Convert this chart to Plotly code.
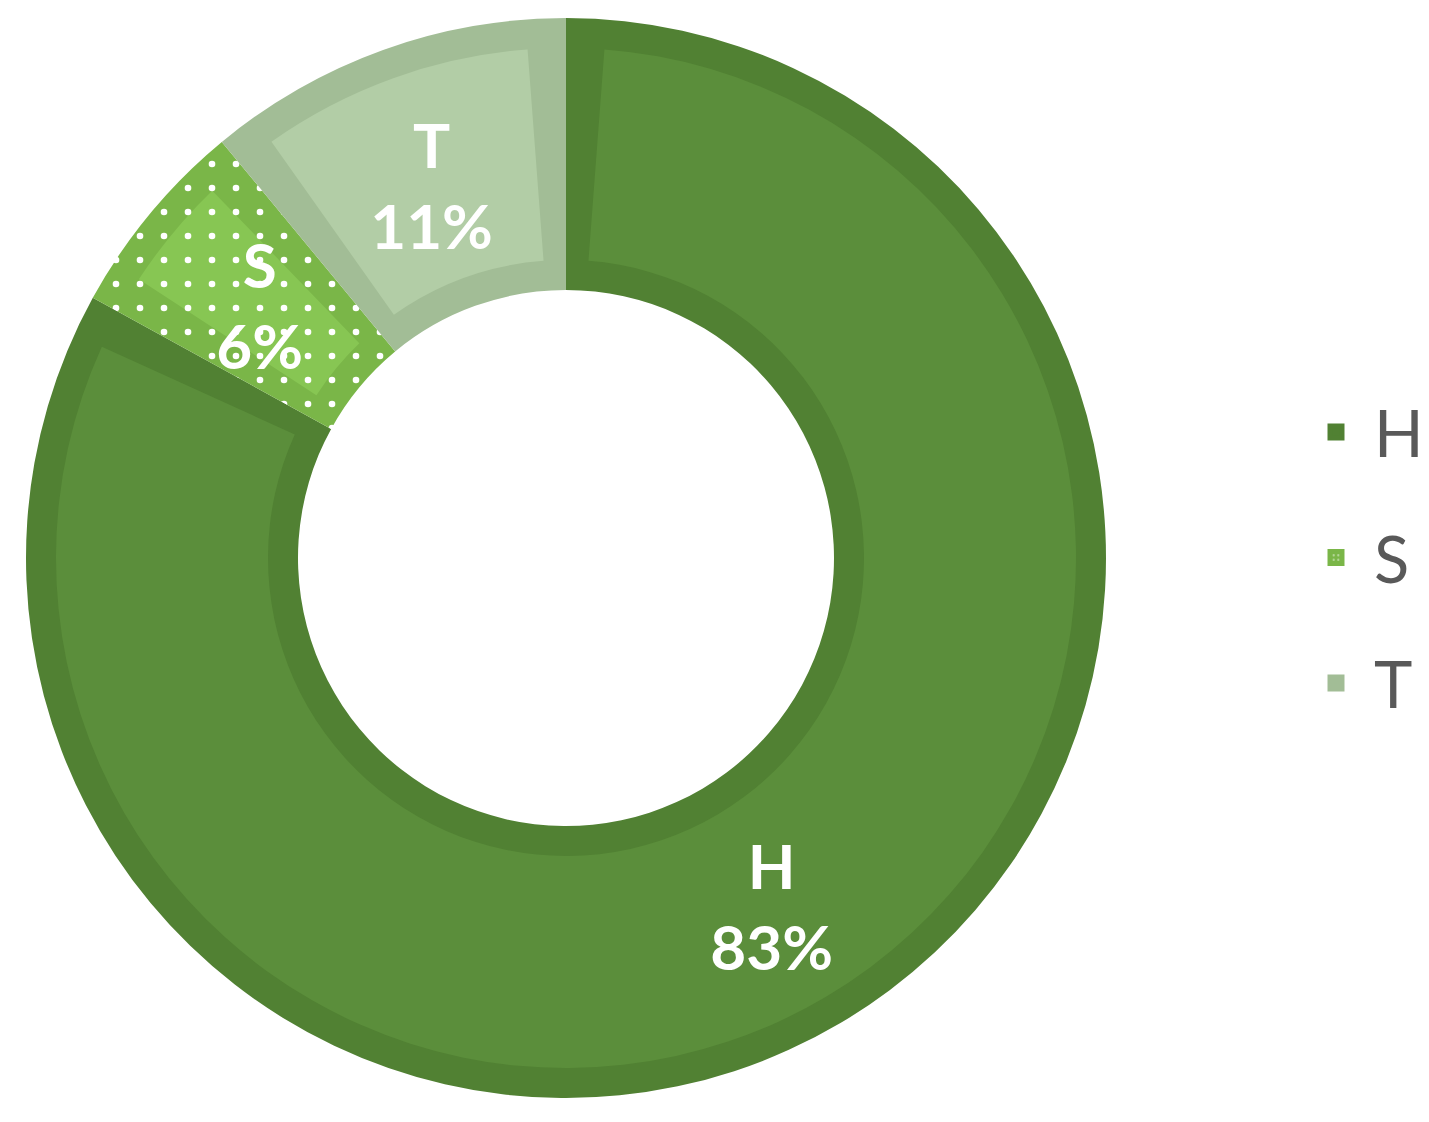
import plotly.graph_objects as go

labels = ["H", "S", "T"]
values = [83, 6, 11]
fill_colors = ["#5b8e3b", "#87c653", "#b2cda6"]
edge_colors = ["#518133", "#7ab648", "#a2bd96"]
patterns = ["", ".", ""]

total = sum(values)
gap = 2.4  # value units taken out at each slice boundary for the inner layer

slice_text = [f"<b>{lab}<br>{val / total * 100:.0f}%</b>" for lab, val in zip(labels, values)]

# inner layer: slice interiors separated by transparent gaps
# (the big slice carries its label here, the small ones on the text layer)
in_labels, in_values, in_colors, in_pat, in_text = [], [], [], [], []
for lab, val, col, pat, txt in zip(labels, values, fill_colors, patterns, slice_text):
    in_labels += [lab, "gap_" + lab]
    in_values += [val - gap, gap]
    in_colors += [col, "rgba(0,0,0,0)"]
    in_pat += [pat, ""]
    in_text += [txt if val / total > 0.5 else "", ""]

top_text = [txt if val / total <= 0.5 else "" for txt, val in zip(slice_text, values)]

cx, cy = 558, 572  # ring centre in px (paper, from bottom-left)


def dom(r):
    return dict(x=[(cx - r) / 1429, (cx + r) / 1429], y=[(cy - r) / 1122, (cy + r) / 1122])


fig = go.Figure()

# outer layer: full slices in the edge colour
fig.add_trace(go.Pie(
    labels=labels, values=values, sort=False, direction="clockwise", rotation=0,
    hole=268 / 540, textinfo="none", hoverinfo="skip", showlegend=False,
    marker=dict(colors=edge_colors, line=dict(width=0),
                pattern=dict(shape=patterns, fgcolor="white", bgcolor=edge_colors,
                             size=24, solidity=0.06)),
    domain=dom(540),
))

# inner layer: lighter interiors
fig.add_trace(go.Pie(
    labels=in_labels, values=in_values, sort=False, direction="clockwise",
    rotation=gap / total * 360 / 2,
    hole=298 / 510, text=in_text, textinfo="text", textposition="inside",
    insidetextorientation="horizontal", hoverinfo="skip", showlegend=False,
    textfont=dict(family="Lato", size=62, color="white"),
    marker=dict(colors=in_colors, line=dict(width=0),
                pattern=dict(shape=in_pat, fgcolor="white", bgcolor=in_colors,
                             size=24, solidity=0.06)),
    domain=dom(510),
))

# text layer: transparent slices carrying the small-slice labels
fig.add_trace(go.Pie(
    labels=labels, values=values, sort=False, direction="clockwise", rotation=0,
    hole=0.682, text=top_text, textinfo="text", textposition="inside",
    insidetextorientation="horizontal", hoverinfo="skip", showlegend=False,
    textfont=dict(family="Lato", size=62, color="white"),
    marker=dict(colors=["rgba(0,0,0,0)"] * len(labels), line=dict(width=0)),
    domain=dom(472),
))

# legend entries
for lab, col, pat in zip(labels, edge_colors, patterns):
    fig.add_trace(go.Bar(
        x=[None], y=[None], name=lab, legendgroup=lab,
        marker=dict(color=col, line=dict(color=col, width=5),
                    pattern=dict(shape=pat, fgcolor="white", bgcolor=col,
                                 size=6, solidity=0.2)),
    ))

fig.update_layout(
    width=1429, height=1122,
    margin=dict(l=0, r=0, t=0, b=0),
    paper_bgcolor="white", plot_bgcolor="white",
    xaxis=dict(visible=False), yaxis=dict(visible=False),
    uniformtext=dict(minsize=62, mode="show"),
    legend=dict(x=1290 / 1429, y=0.51, xanchor="left", yanchor="middle",
                font=dict(family="Lato", size=65, color="#595959"),
                tracegroupgap=38, itemwidth=66),
)

fig.write_html("out.html")
